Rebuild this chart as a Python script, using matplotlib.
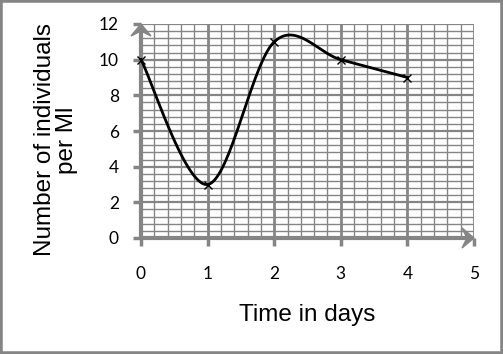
import numpy as np
import matplotlib
matplotlib.use("Agg")
import matplotlib.pyplot as plt
from matplotlib.patches import Polygon, Rectangle

days = [0, 1, 2, 3, 4]
individuals = [10, 3, 11, 10, 9]
x_ticks = [0, 1, 2, 3, 4, 5]
y_ticks = [0, 2, 4, 6, 8, 10, 12]
x_label = "Time in days"
y_label = "Number of individuals\nper Ml"

GRAY = "#858585"
TICKFONT = "Lato"
LABELFONT = "Liberation Sans"

def smooth(xs, ys, n=60):
    P = np.column_stack([xs, ys]).astype(float)
    P_ext = np.vstack([P[0], P, P[-1]])
    out = []
    for i in range(len(P) - 1):
        p0, p1, p2, p3 = P_ext[i], P_ext[i + 1], P_ext[i + 2], P_ext[i + 3]
        c1 = p1 + (p2 - p0) / 6.0
        c2 = p2 - (p3 - p1) / 6.0
        t = np.linspace(0, 1, n)[:, None]
        seg = (1 - t) ** 3 * p1 + 3 * t * (1 - t) ** 2 * c1 + 3 * t ** 2 * (1 - t) * c2 + t ** 3 * p2
        out.append(seg if i == 0 else seg[1:])
    out = np.vstack(out)
    return out[:, 0], out[:, 1]

W, H = 503, 354
fig = plt.figure(figsize=(W / 100, H / 100), dpi=100)
ax = fig.add_axes([141 / W, 1 - 238 / H, 333 / W, 214 / H])
ax.set_xlim(0, 5)
ax.set_ylim(0, 12)

# grid
for v in np.arange(0, 5.01, 0.2):
    major = abs(v - round(v)) < 1e-6
    ax.axvline(v, color=GRAY, lw=2.0 if major else 1.0, zorder=1)
for v in np.arange(0, 12.01, 0.4):
    major = abs(v / 2 - round(v / 2)) < 1e-6
    ax.axhline(v, color=GRAY, lw=1.6 if major else 1.0, zorder=1)

for s in ax.spines.values():
    s.set_visible(False)

# axes lines
ax.plot([0, 5], [0, 0], color=GRAY, lw=3, zorder=3, clip_on=False, solid_capstyle="butt")
ax.plot([0, 0], [0, 12], color=GRAY, lw=3, zorder=3, clip_on=False, solid_capstyle="butt")

fig.canvas.draw()
inv = ax.transData.inverted()
o = ax.transData.transform((0, 0))
ux = inv.transform((o[0] + 1, o[1]))[0]
uy = inv.transform((o[0], o[1] + 1))[1]
yhead = [(0, 12), (-10 * ux, 12 - 12 * uy), (0, 12 - 7 * uy), (10 * ux, 12 - 12 * uy)]
xhead = [(5, 0), (5 - 12 * ux, 10 * uy), (5 - 7 * ux, 0), (5 - 12 * ux, -10 * uy)]
for h in (yhead, xhead):
    ax.add_patch(Polygon(h, closed=True, color=GRAY, zorder=4, clip_on=False))

sx, sy = smooth(days, individuals)
ax.plot(sx, sy, color="black", lw=2.0, zorder=5, clip_on=False)
ax.plot(days, individuals, linestyle="none", marker="x", color="black",
        markersize=6, mew=1.0, zorder=6, clip_on=False)

ax.set_xticks(x_ticks)
ax.set_yticks(y_ticks)
ax.set_xticklabels([str(v) for v in x_ticks], fontsize=12.5, family=TICKFONT)
ax.set_yticklabels([str(v) for v in y_ticks], fontsize=12.5, family=TICKFONT)
ax.tick_params(axis="x", direction="out", length=6, width=2.5, color=GRAY, pad=14)
ax.tick_params(axis="y", direction="out", length=6, width=2.5, color=GRAY, pad=10)

fig.text(307 / W, 1 - 315 / H, x_label, fontsize=17.5, family=LABELFONT,
         ha="center", va="center")
fig.text(56 / W, 1 - 140 / H, y_label, fontsize=17.5, family=LABELFONT,
         ha="center", va="center", rotation=90, multialignment="center",
         linespacing=1.0)

fig.patches.append(Rectangle((0, 0), 1, 1, transform=fig.transFigure,
                             fill=False, edgecolor=GRAY, lw=4, zorder=10))

fig.savefig("out.png", dpi=100)
